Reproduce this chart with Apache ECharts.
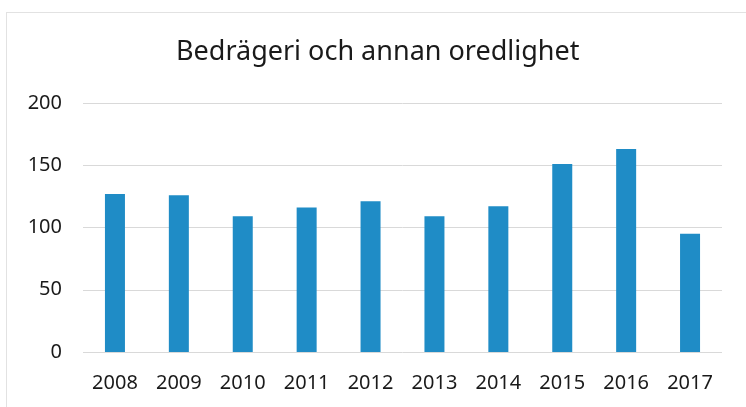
<!DOCTYPE html>
<html>
<head>
<meta charset="utf-8">
<script src="https://cdn.jsdelivr.net/npm/echarts@6/dist/echarts.min.js"></script>
<style>
  html, body { margin: 0; padding: 0; background: #fff; }
  #wrap { position: absolute; left: 0; top: 0; width: 746px; height: 407px; }
  #frame { position: absolute; left: 6px; top: 12px; width: 760px; height: 420px; border: 1px solid #e2e2e2; }
  #chart { position: absolute; left: 0; top: 0; width: 746px; height: 407px; }
</style>
</head>
<body>
<div id="wrap">
  <div id="frame"></div>
  <div id="chart"></div>
</div>
<script>
const years = ["2008", "2009", "2010", "2011", "2012", "2013", "2014", "2015", "2016", "2017"];
const counts = [127, 126, 109, 116, 121, 109, 117, 151, 163, 95];
const titleText = "Bedrägeri och annan oredlighet";

const myChart = echarts.init(document.getElementById("chart"));
myChart.setOption({
  animation: false,
  title: {
    text: titleText,
    left: 171,
    top: 34,
    textStyle: { fontFamily: "Noto Sans", fontSize: 27, fontWeight: "normal", color: "#1a1a1a" },
  },
  grid: { left: 83, right: 24, top: 103, bottom: 55 },
  xAxis: {
    type: "category",
    data: years,
    axisLine: { show: false },
    axisTick: { show: false },
    axisLabel: { fontFamily: "Noto Sans", fontSize: 20, color: "#1a1a1a", margin: 21 },
  },
  yAxis: {
    type: "value",
    min: 0,
    max: 200,
    interval: 50,
    axisLine: { show: false },
    axisTick: { show: false },
    axisLabel: { fontFamily: "Noto Sans", fontSize: 20, color: "#1a1a1a", margin: 21 },
    splitLine: { lineStyle: { color: "#d9d9d9", width: 1 } },
  },
  series: [
    {
      type: "bar",
      data: counts,
      barWidth: 20,
      itemStyle: { color: "#1f8cc6" },
    },
  ],
});
</script>
</body>
</html>
